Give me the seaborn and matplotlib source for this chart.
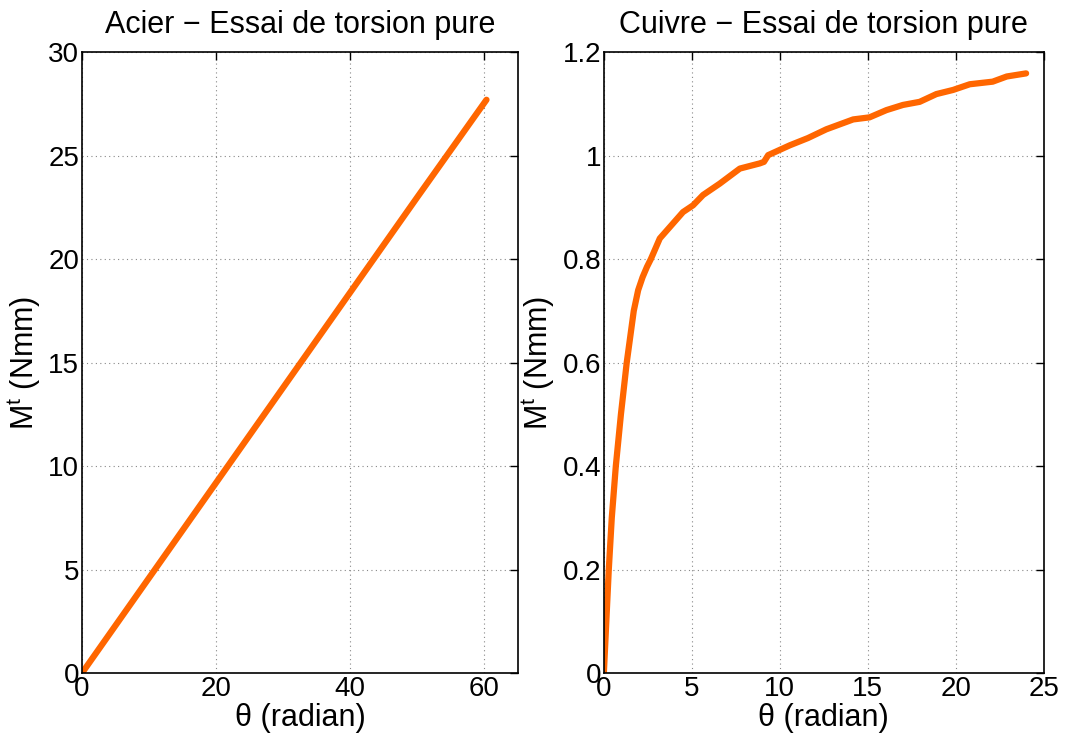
import numpy as np
import pandas as pd
import matplotlib
matplotlib.use("Agg")
import matplotlib.pyplot as plt
import seaborn as sns

# Acier (steel) - linear torsion response
acier_theta = [0, 10, 20, 30, 40, 50, 60.3]
acier_mt = [0, 4.6, 9.2, 13.8, 18.4, 23.0, 27.7]

# Cuivre (copper)
cuivre_theta = [0, 0.14, 0.28, 0.45, 0.68, 0.97, 1.3, 1.7, 1.95, 2.2, 2.45, 2.67, 2.9,
                3.18, 3.75, 4.5, 5.07, 5.64, 6.59, 7.73, 8.86, 9.1, 9.34, 10.57,
                11.6, 12.65, 14.17, 15.1, 16.06, 17.0, 17.95, 18.9, 19.85, 20.8,
                22.1, 22.9, 24.0]
cuivre_mt = [0, 0.1, 0.2, 0.3, 0.4, 0.5, 0.6, 0.7, 0.74, 0.765, 0.785, 0.8, 0.818,
             0.84, 0.862, 0.891, 0.904, 0.924, 0.946, 0.975, 0.985, 0.988, 1.001, 1.02,
             1.034, 1.051, 1.07, 1.074, 1.088, 1.098, 1.104, 1.119, 1.127, 1.138,
             1.143, 1.153, 1.159]

LINE_COLOR = "#ff6600"

sns.set_style("white")
plt.rcParams['font.family'] = ['Liberation Sans', 'DejaVu Sans']
plt.rcParams['mathtext.fontset'] = 'custom'
plt.rcParams['mathtext.rm'] = 'Liberation Sans'
plt.rcParams['mathtext.it'] = 'Liberation Sans'
plt.rcParams['text.color'] = 'black'
plt.rcParams['axes.labelcolor'] = 'black'

fig = plt.figure(figsize=(10.65, 7.40), dpi=100)
ax1 = fig.add_axes([0.077, 0.0905, 0.4094, 0.839])
ax2 = fig.add_axes([0.567, 0.0905, 0.413, 0.839])

df_acier = pd.DataFrame({'theta': acier_theta, 'mt': acier_mt})
df_cuivre = pd.DataFrame({'theta': cuivre_theta, 'mt': cuivre_mt})

sns.lineplot(data=df_acier, x='theta', y='mt', ax=ax1, color=LINE_COLOR,
             linewidth=4.5, sort=False, estimator=None)
sns.lineplot(data=df_cuivre, x='theta', y='mt', ax=ax2, color=LINE_COLOR,
             linewidth=4.5, sort=False, estimator=None)

settings = [
    (ax1, "Acier \u2212 Essai de torsion pure", (0, 65), (0, 30),
     [0, 20, 40, 60], [0, 5, 10, 15, 20, 25, 30]),
    (ax2, "Cuivre \u2212 Essai de torsion pure", (0, 25), (0, 1.2),
     [0, 5, 10, 15, 20, 25], [0, 0.2, 0.4, 0.6, 0.8, 1, 1.2]),
]

for ax, title, xlim, ylim, xt, yt in settings:
    ax.set_xlim(*xlim)
    ax.set_ylim(*ylim)
    ax.set_xticks(xt)
    ax.set_yticks(yt)
    ax.set_yticklabels([f"{v:g}" for v in yt])
    ax.set_title(title, fontsize=22, pad=14, color='black')
    ax.set_xlabel("\u03b8 (radian)", fontsize=22, labelpad=1)
    ax.set_ylabel("M$^\\mathregular{t}$ (Nmm)", fontsize=22, labelpad=4)
    ax.grid(True, linestyle=(0, (1, 3)), color='#888888', linewidth=0.8)
    ax.tick_params(axis='both', direction='in', length=6, width=1, labelsize=20,
                   top=True, right=True, pad=2, colors='black')
    for s in ax.spines.values():
        s.set_visible(True)
        s.set_color('black')
        s.set_linewidth(1.2)

fig.savefig("out.png", dpi=100)
